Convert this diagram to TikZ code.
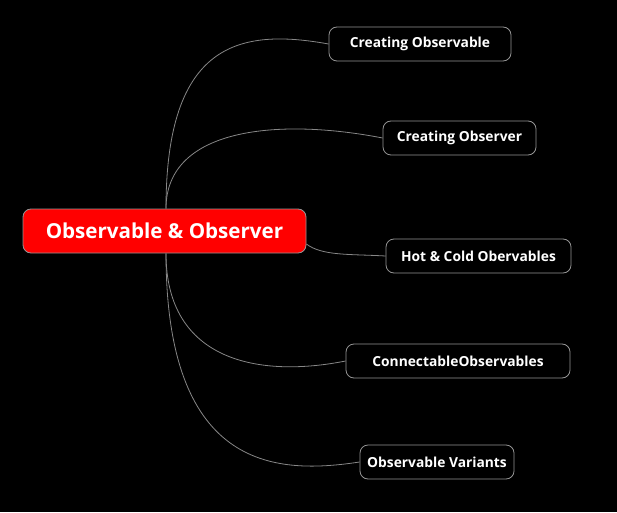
\documentclass[tikz,border=0pt]{standalone}
\usepackage{fontspec}
\setmainfont{Open Sans}
\definecolor{linegray}{RGB}{135,135,135}
\definecolor{boxgray}{RGB}{150,150,150}
\tikzset{
  topic/.style={draw=boxgray, line width=0.8pt, rounded corners=8pt, text=white,
    font=\bfseries\fontsize{13.8}{16}\selectfont, minimum height=34pt, inner xsep=0pt},
  maintopic/.style={topic, fill=red, minimum height=44pt,
    font=\bfseries\fontsize{20.6}{24}\selectfont},
  branch/.style={draw=linegray, line width=0.8pt}
}
\begin{document}
\begin{tikzpicture}[x=1pt,y=1pt]
  % background
  \fill[black] (0,0) rectangle (617,512);
  \useasboundingbox (0,0) rectangle (617,512);
  % central topic
  \node[maintopic, minimum width=283pt] (root) at (164.5,281) {Observable \& Observer};
  % subtopics
  \node[topic, minimum width=182pt] (cobs) at (420,468) {Creating Observable};
  \node[topic, minimum width=153pt] (cobsr) at (459.5,374) {Creating Observer};
  \node[topic, minimum width=185pt] (hotcold) at (478.5,256) {Hot \& Cold Obervables};
  \node[topic, minimum width=224pt] (connect) at (458,151) {ConnectableObservables};
  \node[topic, minimum width=154pt] (variants) at (437,50) {Observable Variants};
  % branches up
  \draw[branch] ([xshift=1.5pt]root.north) .. controls (166,470) and (240,484) .. (cobs.west);
  \draw[branch] ([xshift=1.5pt]root.north) .. controls (166,385) and (280,394) .. (cobsr.west);
  % branch right
  \draw[branch] ([yshift=-13pt]root.east) .. controls (322,256) and (350,258) .. (hotcold.west);
  % branches down
  \draw[branch] ([xshift=1.5pt]root.south) .. controls (166,150) and (260,134) .. (connect.west);
  \draw[branch] ([xshift=1.5pt]root.south) .. controls (166,38) and (280,38) .. (variants.west);
\end{tikzpicture}
\end{document}
